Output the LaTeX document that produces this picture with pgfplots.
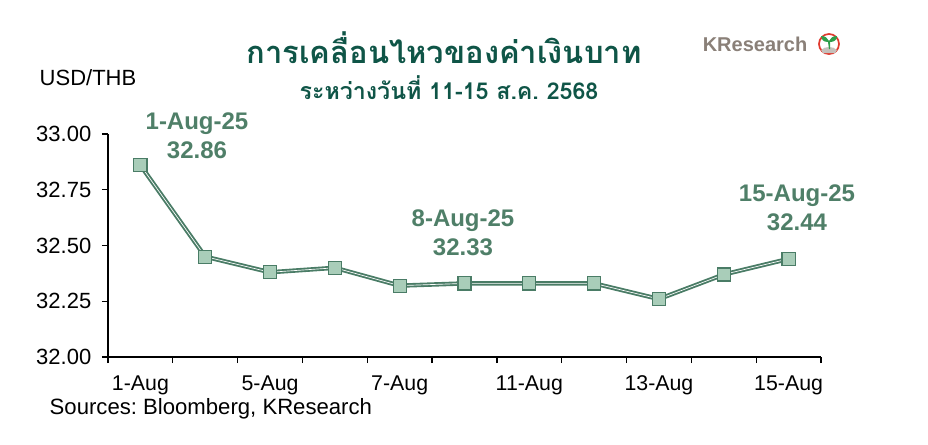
\documentclass[border=0pt]{standalone}
\usepackage{pgfplots}
\pgfplotsset{compat=1.18}
\usepackage{fontspec}
\setmainfont{Liberation Sans}
\newfontfamily\thaifont[Script=Thai]{Loma}
\frenchspacing
\definecolor{kline}{HTML}{4A7C66}
\definecolor{kfill}{HTML}{A9CDB9}
\definecolor{klabel}{HTML}{4F7F68}
\definecolor{ktitle}{HTML}{0F5547}
\definecolor{kgray}{HTML}{8A8078}
\definecolor{kred}{HTML}{E0392E}
\definecolor{kleaf}{HTML}{2E9E4A}
\begin{document}
% picture units: 1 = one pixel of the 928x444 reference, y measured upwards
\begin{tikzpicture}[x=0.75pt,y=0.75pt]
\path (0,0) rectangle (928,444);
\begin{axis}[
    at={(108pt*0.75,87pt*0.75)}, anchor=south west,
    scale only axis, width=534.75pt, height=167.25pt,
    xmin=-0.5, xmax=10.5, ymin=32, ymax=33,
    axis x line*=bottom, axis y line*=left,
    axis line style={-, black, line width=0.9pt},
    tick align=outside,
    xtick={0,2,4,6,8,10},
    xticklabels={1-Aug,5-Aug,7-Aug,11-Aug,13-Aug,15-Aug},
    major x tick style={draw=none},
    minor xtick={-0.5,0.5,...,10.5},
    minor tick length=4.5pt,
    minor x tick style={black, line width=0.9pt},
    ytick={32,32.25,32.5,32.75,33},
    major tick length=4.5pt,
    major y tick style={black, line width=0.9pt},
    yticklabel style={/pgf/number format/fixed, /pgf/number format/fixed zerofill, /pgf/number format/precision=2, xshift=-4.5pt, font=\fontsize{16.5}{18}\selectfont},
    xticklabel style={yshift=-6pt, font=\fontsize{16}{18}\selectfont},
    /pgf/number format/assume math mode=true,
    clip=false,
]
\addplot[kline, line width=1.4pt, double=white, double distance=0.5pt,
    mark=square*, mark size=4.9pt,
    mark options={draw=kline, fill=kfill, line width=0.9pt, double=none, solid}]
  coordinates {(0,32.86)(1,32.45)(2,32.38)(3,32.40)(4,32.32)(5,32.33)(6,32.33)(7,32.33)(8,32.26)(9,32.37)(10,32.44)};
\end{axis}
% titles
\node[text=ktitle, font=\thaifont\bfseries\fontsize{23.2}{28}\selectfont] at (444,396) {การเคลื่อนไหวของค่าเงินบาท};
\node[text=ktitle, font=\thaifont\bfseries\fontsize{17.4}{22}\selectfont] at (449,356) {ระหว่างวันที่ 11-15 ส.ค. 2568};
\node[font=\fontsize{16.5}{18}\selectfont] at (88,366) {USD/THB};
\node[font=\fontsize{16.6}{18}\selectfont, anchor=west] at (45,35) {Sources: Bloomberg, KResearch};
% data labels
\begin{scope}[every node/.style={text=klabel, font=\bfseries\fontsize{18}{21.75}\selectfont, align=center}]
\node at (197,308.5) {1-Aug-25\\32.86};
\node at (463,211.5) {8-Aug-25\\32.33};
\node at (797,236.5) {15-Aug-25\\32.44};
\end{scope}
% logo
\node[text=kgray, font=\bfseries\fontsize{15}{18}\selectfont, anchor=east] at (812,400) {KResearch};
\draw[kred, line width=1.3pt] (829,400) circle (10);
\fill[kgray!50] (821,394) .. controls (825,398) and (833,398) .. (837,394) -- (835,391) -- (823,391) -- cycle;
\fill[kleaf] (829,395) -- (828,402) .. controls (823,402) and (821,405) .. (821,408) .. controls (825,408) and (828,406) .. (829,403) .. controls (830,406) and (833,408) .. (837,408) .. controls (837,404) and (834,402) .. (830,402) -- (830,395) -- cycle;
\end{tikzpicture}
\end{document}
